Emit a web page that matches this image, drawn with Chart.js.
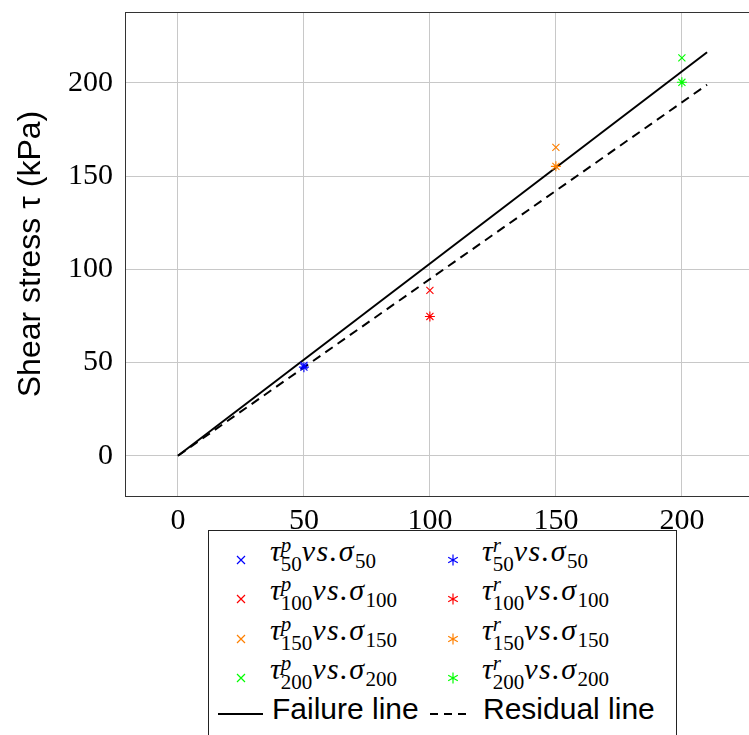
<!DOCTYPE html>
<html>
<head>
<meta charset="utf-8">
<script src="https://cdn.jsdelivr.net/npm/chart.js@4.4.1/dist/chart.umd.min.js"></script>
<style>
  body { margin: 0; overflow: hidden; background: #fff; }
  #wrap { position: relative; width: 770px; height: 735px; }
  #legend {
    position: absolute; left: 208px; top: 530px; width: 469px; height: 220px;
    border: 1px solid #222; background: #fff; box-sizing: border-box;
  }
  .row { position: absolute; height: 40px; white-space: nowrap; }
  .mk { position: absolute; top: -9px; }
  .txt { position: absolute; top: -29px; font-family: "Liberation Serif", serif; font-size: 30px; }
  .txt i { font-style: italic; }
  .vs { letter-spacing: 1.5px; }
  .ss { display: inline-block; vertical-align: -10px; line-height: 19px; font-size: 21px; text-align: left; }
  .ss span { display: block; }
  .sub { font-size: 21px; vertical-align: -7px; line-height: 0; }
  .sans { position: absolute; top: -22px; font-family: "Liberation Sans", sans-serif; font-size: 30px; }
</style>
</head>
<body>
<div id="wrap">
  <canvas id="chart"></canvas>
  <div id="legend"></div>
</div>
<script>
// --- DATA ---
const normalStress = [50, 100, 150, 200];
const peakShear = [48.5, 88.7, 165.4, 213.4];
const residualShear = [47.5, 74.7, 155.2, 200.3];
const seriesColors = ["#0000ff", "#ff0000", "#ff8000", "#00ff00"];
const lineX = [0, 210];
const failureY = [0, 216.4];
const residualY = [0, 199];
const xTicks = [0, 50, 100, 150, 200];
const yTicks = [0, 50, 100, 150, 200];

// --- DATASETS ---
const datasets = [];
normalStress.forEach((s, i) => {
    datasets.push({
        label: "peak " + s,
        data: [{ x: s, y: peakShear[i] }],
        pointStyle: "crossRot", pointRadius: 5, pointBorderWidth: 1.1,
        borderColor: seriesColors[i], backgroundColor: seriesColors[i]
    });
    datasets.push({
        label: "residual " + s,
        data: [{ x: s, y: residualShear[i] }],
        pointStyle: "star", pointRadius: 5, pointBorderWidth: 1.1,
        borderColor: seriesColors[i], backgroundColor: seriesColors[i]
    });
});
datasets.push({
    label: "Failure line",
    data: lineX.map((x, i) => ({ x, y: failureY[i] })),
    showLine: true, pointRadius: 0, borderColor: "#000", borderWidth: 2
});
datasets.push({
    label: "Residual line",
    data: lineX.map((x, i) => ({ x, y: residualY[i] })),
    showLine: true, pointRadius: 0, borderColor: "#000", borderWidth: 2, borderDash: [9, 6]
});

// frame around the plot area (top/right edges)
const framePlugin = {
    id: "frame",
    afterDraw(chart) {
        const { ctx, chartArea: a } = chart;
        ctx.save();
        ctx.strokeStyle = "#333";
        ctx.lineWidth = 1;
        ctx.strokeRect(a.left + 0.5, a.top + 0.5, a.right - a.left, a.bottom - a.top);
        ctx.restore();
    }
};

const tickFont = { family: "'Liberation Serif', serif", size: 30 };

new Chart(document.getElementById("chart"), {
    type: "scatter",
    data: { datasets },
    plugins: [framePlugin],
    options: {
        responsive: true, maintainAspectRatio: false, animation: false,
        layout: { padding: { top: 12, right: 10, left: 0, bottom: 0 } },
        plugins: { legend: { display: false }, tooltip: { enabled: false } },
        scales: {
            x: {
                type: "linear", min: -21, max: 231,
                afterBuildTicks: s => { s.ticks = xTicks.map(v => ({ value: v })); },
                afterFit: s => { s.height = 239; s.paddingLeft = 0; s.paddingRight = 0; },
                grid: { color: "#c8c8c8", drawTicks: false },
                border: { color: "#333" },
                ticks: { font: tickFont, color: "#000", padding: 7, maxRotation: 0 }
            },
            y: {
                type: "linear", min: -21.6, max: 238,
                afterBuildTicks: s => { s.ticks = yTicks.map(v => ({ value: v })); },
                afterFit: s => { s.width = 125; s.paddingTop = 0; s.paddingBottom = 0; },
                grid: { color: "#c8c8c8", drawTicks: false },
                border: { color: "#333" },
                ticks: { font: tickFont, color: "#000", padding: 12 },
                title: {
                    display: true, text: "Shear stress τ (kPa)", color: "#000",
                    font: { family: "'Liberation Sans', sans-serif", size: 32 },
                    padding: { top: 12, bottom: 0 }
                }
            }
        }
    }
});

// --- LEGEND (HTML, math-style labels) ---
const legend = document.getElementById("legend");
const markerSvg = (type, color) => {
    const p = type === "x"
        ? `<path d="M2 2 L10 10 M10 2 L2 10" stroke="${color}" stroke-width="1.2"/>`
        : `<path d="M6 0.5 L6 11.5 M1.2 3.2 L10.8 8.8 M10.8 3.2 L1.2 8.8" stroke="${color}" stroke-width="1.2"/>`;
    return `<svg class="mk" width="12" height="12" viewBox="0 0 12 12">${p}</svg>`;
};
const mathLabel = (sup, s) =>
    `<i>τ</i><span class="ss"><span><i>${sup}</i></span><span>${s}</span></span><i class="vs">vs.σ</i><span class="sub">${s}</span>`;
const rowTop = [32, 71, 111, 150];
normalStress.forEach((s, i) => {
    legend.insertAdjacentHTML("beforeend",
        `<div class="row" style="top:${rowTop[i]}px;left:0">
           <span style="position:absolute;left:26px">${markerSvg("x", seriesColors[i])}</span>
           <span class="txt" style="left:61px">${mathLabel("p", s)}</span>
           <span style="position:absolute;left:238px">${markerSvg("*", seriesColors[i])}</span>
           <span class="txt" style="left:273px">${mathLabel("r", s)}</span>
         </div>`);
});
legend.insertAdjacentHTML("beforeend",
    `<div class="row" style="top:183px;left:0">
       <svg style="position:absolute;left:9px;top:-2px" width="46" height="4"><line x1="0" y1="2" x2="45" y2="2" stroke="#000" stroke-width="2"/></svg>
       <span class="sans" style="left:63px">Failure line</span>
       <svg style="position:absolute;left:221px;top:-2px" width="42" height="4"><line x1="0" y1="2" x2="41" y2="2" stroke="#000" stroke-width="2" stroke-dasharray="8,6"/></svg>
       <span class="sans" style="left:274px">Residual line</span>
     </div>`);
</script>
</body>
</html>
